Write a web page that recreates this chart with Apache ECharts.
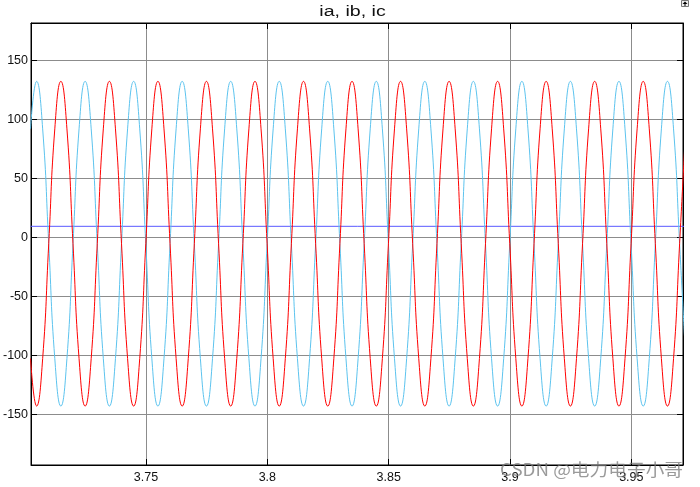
<!DOCTYPE html>
<html>
<head>
<meta charset="utf-8">
<script src="https://cdn.jsdelivr.net/npm/echarts@6/dist/echarts.min.js"></script>
<style>html,body{margin:0;padding:0;background:#fff;}#c{width:700px;height:487px;}</style>
</head>
<body>
<div id="c"></div>
<script>
// sample times (s)
var times = [
3.7024,3.7049,3.7074,3.7099,3.7124,3.7149,3.7174,3.7199,
3.7224,3.7249,3.7274,3.7299,3.7324,3.7349,3.7374,3.7399,
3.7424,3.7449,3.7474,3.7499,3.7524,3.7549,3.7574,3.7599,
3.7624,3.7649,3.7674,3.7699,3.7724,3.7749,3.7774,3.7799,
3.7824,3.7849,3.7874,3.7899,3.7924,3.7949,3.7974,3.7999,
3.8024,3.8049,3.8074,3.8099,3.8124,3.8149,3.8174,3.8199,
3.8224,3.8249,3.8274,3.8299,3.8324,3.8349,3.8374,3.8399,
3.8424,3.8449,3.8474,3.8499,3.8524,3.8549,3.8574,3.8599,
3.8624,3.8649,3.8674,3.8699,3.8724,3.8749,3.8774,3.8799,
3.8824,3.8849,3.8874,3.8899,3.8924,3.8949,3.8974,3.8999,
3.9024,3.9049,3.9074,3.9099,3.9124,3.9149,3.9174,3.9199,
3.9224,3.9249,3.9274,3.9299,3.9324,3.9349,3.9374,3.9399,
3.9424,3.9449,3.9474,3.9499,3.9524,3.9549,3.9574,3.9599,
3.9624,3.9649,3.9674,3.9699,3.9724
];
// ia (red)
var ia = [
-102.7,-143,-102.7,-5.3,92.2,132.5,92.2,-5.3,
-102.7,-143,-102.7,-5.3,92.2,132.5,92.2,-5.3,
-102.7,-143,-102.7,-5.3,92.2,132.5,92.2,-5.3,
-102.7,-143,-102.7,-5.3,92.2,132.5,92.2,-5.3,
-102.7,-143,-102.7,-5.3,92.2,132.5,92.2,-5.3,
-102.7,-143,-102.7,-5.3,92.2,132.5,92.2,-5.3,
-102.7,-143,-102.7,-5.3,92.2,132.5,92.2,-5.3,
-102.7,-143,-102.7,-5.3,92.2,132.5,92.2,-5.3,
-102.7,-143,-102.7,-5.3,92.2,132.5,92.2,-5.3,
-102.7,-143,-102.7,-5.3,92.2,132.5,92.2,-5.3,
-102.7,-143,-102.7,-5.3,92.2,132.5,92.2,-5.3,
-102.7,-143,-102.7,-5.3,92.2,132.5,92.2,-5.3,
-102.7,-143,-102.7,-5.3,92.2,132.5,92.2,-5.3,
-102.7,-143,-102.7,-5.3,92.2
];
// ib (cyan)
var ib = [
92.2,132.5,92.2,-5.3,-102.7,-143,-102.7,-5.3,
92.2,132.5,92.2,-5.3,-102.7,-143,-102.7,-5.3,
92.2,132.5,92.2,-5.3,-102.7,-143,-102.7,-5.3,
92.2,132.5,92.2,-5.3,-102.7,-143,-102.7,-5.3,
92.2,132.5,92.2,-5.3,-102.7,-143,-102.7,-5.3,
92.2,132.5,92.2,-5.3,-102.7,-143,-102.7,-5.3,
92.2,132.5,92.2,-5.3,-102.7,-143,-102.7,-5.3,
92.2,132.5,92.2,-5.3,-102.7,-143,-102.7,-5.3,
92.2,132.5,92.2,-5.3,-102.7,-143,-102.7,-5.3,
92.2,132.5,92.2,-5.3,-102.7,-143,-102.7,-5.3,
92.2,132.5,92.2,-5.3,-102.7,-143,-102.7,-5.3,
92.2,132.5,92.2,-5.3,-102.7,-143,-102.7,-5.3,
92.2,132.5,92.2,-5.3,-102.7,-143,-102.7,-5.3,
92.2,132.5,92.2,-5.3,-102.7
];
// ic (blue), nearly constant
var icTimes = [3.7024, 3.9724];
var ic = [9.5, 9.5];

var xMin = 3.7026, xMax = 3.9713;
var yMin = -193, yMax = 182;

function zip(t, v) { var out = []; for (var i = 0; i < v.length; i++) out.push([t[i], v[i]]); return out; }

var chart = echarts.init(document.getElementById('c'), null, {renderer: 'canvas'});
var labelFont = {fontFamily: 'Liberation Sans, Arial, sans-serif', fontSize: 12.5, color: '#111'};
function axisLine() { return {show: true, onZero: false, lineStyle: {color: '#000', width: 1}}; }
function tick() { return {show: true, inside: true, length: 6, lineStyle: {color: '#000'}}; }
chart.setOption({
  animation: false,
  backgroundColor: '#fff',
  grid: {left: 30, right: 17, top: 23, bottom: 22, show: true, borderColor: '#000', borderWidth: 1, backgroundColor: '#fff'},
  xAxis: [{
    type: 'value', min: xMin, max: xMax, splitNumber: 5, position: 'bottom',
    axisLine: axisLine(), axisTick: tick(),
    axisLabel: Object.assign({margin: 6, showMinLabel: false, showMaxLabel: false}, labelFont),
    splitLine: {show: true, lineStyle: {color: '#8c8c8c', width: 1}}
  }, {
    type: 'value', min: xMin, max: xMax, splitNumber: 5, position: 'top',
    axisLine: axisLine(), axisTick: tick(),
    axisLabel: {show: false}, splitLine: {show: false}
  }],
  yAxis: [{
    type: 'value', min: yMin, max: yMax, splitNumber: 7, position: 'left',
    axisLine: axisLine(), axisTick: tick(),
    axisLabel: Object.assign({margin: 3, showMinLabel: false, showMaxLabel: false}, labelFont),
    splitLine: {show: true, lineStyle: {color: '#8c8c8c', width: 1}}
  }, {
    type: 'value', min: yMin, max: yMax, splitNumber: 7, position: 'right',
    axisLine: axisLine(), axisTick: tick(),
    axisLabel: {show: false}, splitLine: {show: false}
  }],
  series: [
    {name: 'ic', type: 'line', data: zip(icTimes, ic), showSymbol: false, symbol: 'none',
     lineStyle: {color: '#5a5aff', width: 1}, clip: true, z: 2},
    {name: 'ib', type: 'line', data: zip(times, ib), showSymbol: false, symbol: 'none', smooth: 0.5,
     lineStyle: {color: '#5cc3ee', width: 1}, clip: true, z: 3},
    {name: 'ia', type: 'line', data: zip(times, ia), showSymbol: false, symbol: 'none', smooth: 0.5,
     lineStyle: {color: '#ff0000', width: 1}, clip: true, z: 4}
  ],
  graphic: [
    {type: 'text', x: 352.5, y: 12.5, scaleX: 1.4, z: 10,
     style: {text: 'ia, ib, ic', x: 0, y: 0, fill: '#111', font: '14px "Liberation Sans", Arial, sans-serif',
             textAlign: 'center', textVerticalAlign: 'middle', align: 'center', verticalAlign: 'middle'}},
    {type: 'rect', shape: {x: 681.5, y: 0.5, width: 7, height: 6}, z: 10,
     style: {fill: '#f0f0f0', stroke: '#777', lineWidth: 1}},
    {type: 'polygon', shape: {points: [[685, 1.5], [687.5, 4], [682.5, 4]]}, z: 11, style: {fill: '#000'}},
    {type: 'rect', shape: {x: 684.5, y: 3.5, width: 1, height: 2.5}, z: 11, style: {fill: '#000'}},
    {type: 'text', x: 500, y: 469.5, scaleX: 1.1, z: 20,
     style: {text: 'CSDN @电力电子小哥', x: 0, y: 0, fill: 'rgba(120,120,120,0.75)',
             font: '17px "Noto Sans CJK SC", "Noto Sans", sans-serif',
             textAlign: 'left', textVerticalAlign: 'middle', align: 'left', verticalAlign: 'middle'}}
  ]
});
</script>
</body>
</html>
